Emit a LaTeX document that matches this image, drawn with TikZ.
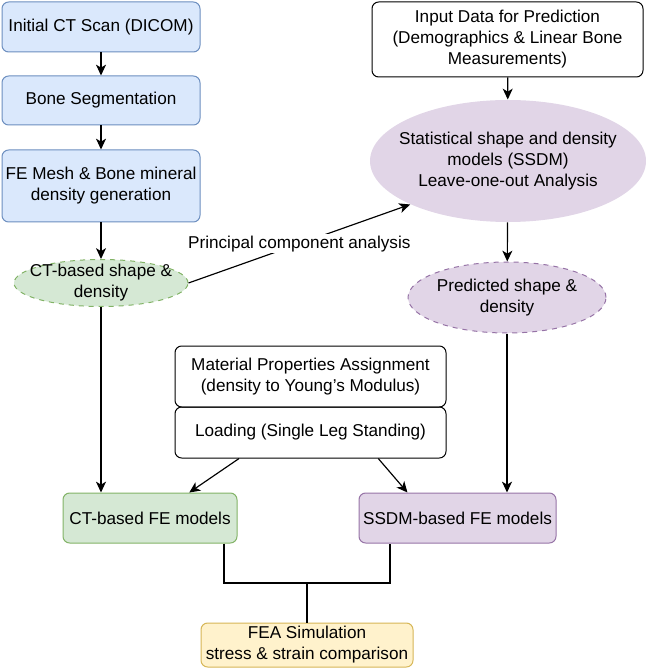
\documentclass[tikz,border=0pt]{standalone}
\usepackage{fontspec}
\setmainfont{Liberation Sans}
\usetikzlibrary{shapes.geometric,arrows.meta}

\definecolor{blueFill}{HTML}{DAE8FC}
\definecolor{blueLine}{HTML}{6C8EBF}
\definecolor{greenFill}{HTML}{D5E8D4}
\definecolor{greenLine}{HTML}{82B366}
\definecolor{purpleFill}{HTML}{E1D5E7}
\definecolor{purpleLine}{HTML}{9673A6}
\definecolor{yellowFill}{HTML}{FFF2CC}
\definecolor{yellowLine}{HTML}{D6B656}

\begin{document}
\begin{tikzpicture}[x=0.6pt, y=-0.6pt,
  font=\fontsize{10.3pt}{12.6pt}\selectfont,
  >={Stealth[length=6.5pt, width=6pt, inset=1.8pt]},
  box/.style={draw, rounded corners=4pt, align=center, inner sep=1pt, line width=0.6pt},
  bluebox/.style={box, draw=blueLine, fill=blueFill},
  greenbox/.style={box, draw=greenLine, fill=greenFill},
  purplebox/.style={box, draw=purpleLine, fill=purpleFill},
  yellowbox/.style={box, draw=yellowLine, fill=yellowFill},
  oval/.style={ellipse, inner sep=0pt, line width=0.6pt},
  link/.style={->, line width=0.7pt},
  bus/.style={line width=1.4pt}]

  \newcommand\U{0.6pt}

  \useasboundingbox (0,0) rectangle (645,669);

  % CT branch
  \node[bluebox, minimum width=198*\U, minimum height=50*\U] (scan) at (101,27) {Initial CT Scan (DICOM)};
  \node[bluebox, minimum width=198*\U, minimum height=49*\U] (seg) at (101,100.5) {Bone Segmentation};
  \node[bluebox, minimum width=198*\U, minimum height=72*\U] (mesh) at (101,186) {FE Mesh \& Bone mineral\\density generation};
  \node[oval, draw=greenLine, fill=greenFill, dashed, minimum width=174*\U, minimum height=47*\U,
        label={[align=center]center:{CT-based shape \&\\density}}] (ctsd) at (101,283) {};

  % SSDM branch
  \node[box, minimum width=271*\U, minimum height=75*\U] (input) at (507.5,39.5) {Input Data for Prediction\\(Demographics \& Linear Bone\\Measurements)};
  \node[oval, fill=purpleFill, minimum width=276*\U, minimum height=122*\U,
        label={[align=center]center:{Statistical shape and density\\models (SSDM)\\Leave-one-out Analysis}}] (ssdm) at (508,161) {};
  \node[oval, draw=purpleLine, fill=purpleFill, dashed, minimum width=198*\U, minimum height=71*\U,
        label={[align=center]center:{Predicted shape \&\\density}}] (pred) at (507,297.5) {};

  % FE set-up
  \node[box, minimum width=271*\U, minimum height=61*\U] (mat) at (310.5,376.5) {Material Properties Assignment\\(density to Young’s Modulus)};
  \node[box, minimum width=271*\U, minimum height=51*\U] (load) at (310.5,432.5) {Loading (Single Leg Standing)};

  \node[greenbox, minimum width=174*\U, minimum height=50*\U] (ctfe) at (150,518) {CT-based FE models};
  \node[purplebox, minimum width=197*\U, minimum height=50*\U] (ssfe) at (457.5,518) {SSDM-based FE models};
  \node[yellowbox, minimum width=212*\U, minimum height=44*\U] (fea) at (307,645) {FEA Simulation\\stress \& strain comparison};

  \coordinate (join) at (307,583);

  % connectors
  \draw[link] (scan) -- (seg);
  \draw[link] (seg) -- (mesh);
  \draw[link] (mesh) -- (ctsd);
  \draw[link] (ctsd) -- (ctsd |- ctfe.north);
  \draw[link] (ctsd.east) -- node[fill=white, inner sep=1pt] {Principal component analysis} (ssdm.south west);
  \draw[link] (input) -- (ssdm);
  \draw[link] (ssdm) -- (pred);
  \draw[link] (pred) -- (pred |- ssfe.north);
  \draw[link] (load.200) -- (ctfe.33);
  \draw[link] (load.339) -- (ssfe.153);

  \draw[bus] ([xshift=74*\U]ctfe.south) |- (join) -| ([xshift=-67.5*\U]ssfe.south);
  \draw[bus] (join) -- (fea);

\end{tikzpicture}
\end{document}
